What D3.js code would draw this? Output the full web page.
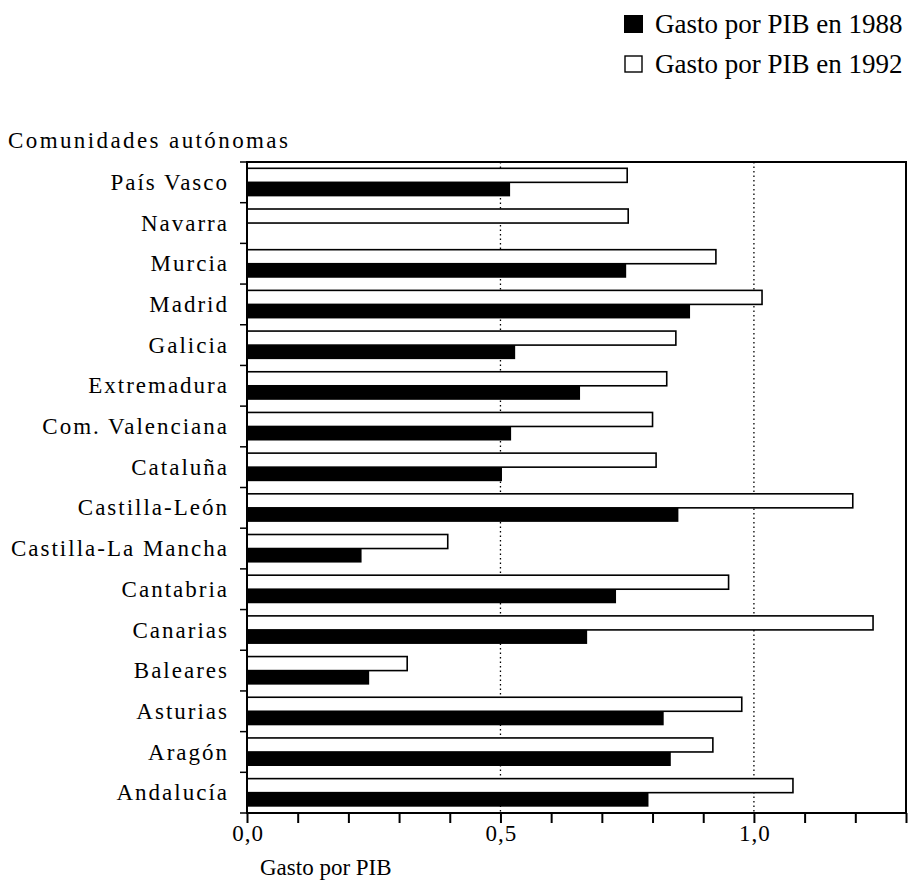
<!DOCTYPE html>
<html><head><meta charset="utf-8">
<script src="https://cdn.jsdelivr.net/npm/d3@7"></script>
<style>body{margin:0;background:#fff}svg{display:block}</style>
</head><body><svg id="c" width="909" height="885"></svg>
<script>
const categories = ["País Vasco","Navarra","Murcia","Madrid","Galicia","Extremadura","Com. Valenciana","Cataluña","Castilla-León","Castilla-La Mancha","Cantabria","Canarias","Baleares","Asturias","Aragón","Andalucía"];
const gasto1988 = [0.519,0,0.748,0.874,0.529,0.657,0.521,0.503,0.851,0.226,0.728,0.671,0.241,0.822,0.836,0.792];
const gasto1992 = [0.750,0.752,0.925,1.016,0.846,0.828,0.800,0.807,1.195,0.396,0.950,1.235,0.316,0.976,0.919,1.077];
const xTicks = [0,0.1,0.2,0.3,0.4,0.5,0.6,0.7,0.8,0.9,1.0,1.1,1.2,1.3];
const xTickLabels = {"0":"0,0","0.5":"0,5","1":"1,0"};
const gridValues = [0.5,1.0];
const seriesNames = ["Gasto por PIB en 1988","Gasto por PIB en 1992"];

const FONT = '"Liberation Serif","Times New Roman",Tinos,"DejaVu Serif","Noto Serif",serif';
const svg = d3.select("#c").attr("font-family",FONT);
const L=247,R=906,T=162,B=813;
const x = d3.scaleLinear().domain([0,1.3]).range([L,R]);
const y = d3.scaleBand().domain(categories).range([T,B]);
const sub = d3.scaleBand().domain(["1992","1988"]).range([0,y.bandwidth()]).paddingInner(0).paddingOuter(0.45);

svg.append("g").selectAll("line").data(gridValues).join("line")
  .attr("x1",d=>x(d)).attr("x2",d=>x(d)).attr("y1",T).attr("y2",B)
  .attr("stroke","#000").attr("stroke-width",1.3).attr("stroke-dasharray","1.5,3");

const rows = svg.append("g").selectAll("g").data(categories).join("g")
  .attr("transform",d=>`translate(0,${y(d)})`);
rows.append("rect").attr("x",x(0))
  .attr("y",sub("1992")).attr("height",sub.bandwidth())
  .attr("width",(d,i)=>x(gasto1992[i])-x(0))
  .attr("fill","#fff").attr("stroke","#000").attr("stroke-width",1.6);
rows.filter((d,i)=>gasto1988[i]>0).append("rect").attr("x",x(0))
  .attr("y",sub("1988")).attr("height",sub.bandwidth())
  .attr("width",d=>x(gasto1988[categories.indexOf(d)])-x(0))
  .attr("fill","#000");

svg.append("rect").attr("x",L).attr("y",T).attr("width",R-L).attr("height",B-T)
  .attr("fill","none").attr("stroke","#000").attr("stroke-width",2);

const xa = svg.append("g").attr("transform",`translate(0,${B})`)
  .call(d3.axisBottom(x).tickValues(xTicks).tickSize(10).tickFormat(d=>xTickLabels[String(d)]||""));
xa.attr("font-family",FONT);
xa.select(".domain").remove();
xa.selectAll("line").attr("stroke","#000").attr("stroke-width",2);
xa.selectAll("text").attr("font-size",23).attr("dy","0.8em").attr("y",10).attr("letter-spacing",1).attr("dx",0.5);

const ya = svg.append("g").attr("transform",`translate(${L},0)`)
  .call(d3.axisLeft(y).tickSize(0).tickPadding(18));
ya.attr("font-family",FONT);
ya.select(".domain").remove();
ya.selectAll("text").attr("font-size",23).attr("dy","0.33em").attr("letter-spacing",2);
svg.append("g").selectAll("line").data(d3.range(categories.length+1)).join("line")
  .attr("x1",L-7).attr("x2",L).attr("y1",i=>T+i*y.step()).attr("y2",i=>T+i*y.step())
  .attr("stroke","#000").attr("stroke-width",1.5);

svg.append("text").attr("x",8).attr("y",148).attr("font-size",23).attr("letter-spacing",2.4).text("Comunidades autónomas");
svg.append("text").attr("x",260).attr("y",875).attr("font-size",23).text("Gasto por PIB");

const lg = svg.append("g");
const lgY=[15,55];
lg.selectAll("rect").data(seriesNames).join("rect")
  .attr("x",(d,i)=>i===0?624:625).attr("y",(d,i)=>lgY[i]+(i===0?0:1)).attr("width",(d,i)=>i===0?19:17).attr("height",(d,i)=>i===0?18:16)
  .attr("fill",(d,i)=>i===0?"#000":"#fff").attr("stroke","#000").attr("stroke-width",(d,i)=>i===0?0:1.4);
lg.selectAll("text").data(seriesNames).join("text")
  .attr("x",655).attr("y",(d,i)=>lgY[i]+18).attr("font-size",27).text(d=>d);
</script></body></html>
